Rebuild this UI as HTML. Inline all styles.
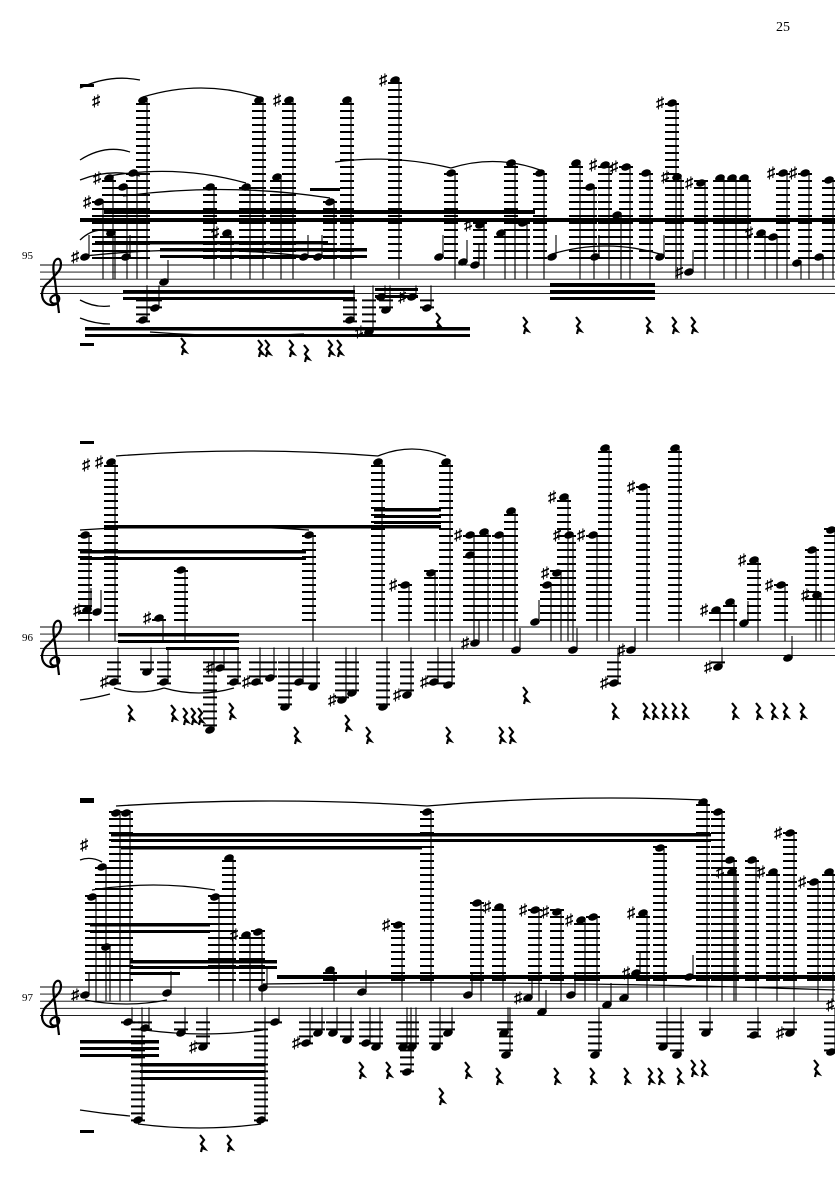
<!DOCTYPE html>
<html><head><meta charset="utf-8"><style>
html,body{margin:0;padding:0;background:#fff;}
svg{display:block;}
text{font-family:"Liberation Serif","DejaVu Serif",serif;}
</style></head><body>
<svg id="s" width="835" height="1181" viewBox="0 0 835 1181" xmlns="http://www.w3.org/2000/svg">
<rect width="835" height="1181" fill="#fff"/>
<text x="776" y="31" font-size="14">25</text>
<text x="22" y="259" font-size="11">95</text>
<text x="22" y="641" font-size="11">96</text>
<text x="22" y="1001" font-size="11">97</text>
<g id="g"></g>
</svg>
<script>
var o='';
function L(a,b,c,d,w){o+='<line x1="'+a+'" y1="'+b+'" x2="'+c+'" y2="'+d+'" stroke="#000" stroke-width="'+(w||1)+'"/>';}
function R(x,y,w,h){o+='<rect x="'+x+'" y="'+y+'" width="'+w+'" height="'+h+'" fill="#000"/>';}
function H(x,y){o+='<ellipse cx="'+x+'" cy="'+y+'" rx="5" ry="3.5" transform="rotate(-20 '+x+' '+y+')" fill="#000"/>';}
function S(x,y){o+='<text x="'+x+'" y="'+y+'" font-size="16" font-weight="bold" font-family="DejaVu Sans,sans-serif">♯</text>';}
function rest(x,y){o+='<path d="M'+x+' '+y+' l4 5 -3 4 4 5 -3 -1 -1 4" fill="none" stroke="#000" stroke-width="2.2"/>';}
function slur(x1,y1,x2,y2,h){o+='<path d="M'+x1+' '+y1+' Q'+((x1+x2)/2)+' '+(Math.min(y1,y2)-h)+' '+x2+' '+y2+'" fill="none" stroke="#000" stroke-width="1.3"/>';}
function staff(t){for(var i=0;i<5;i++)L(40,t+i*7.1,835,t+i*7.1,0.9);
 o+='<path d="M58 '+(t+38)+' c-9 3 -10 -6 -3 -8 c6 -1 6 9 -2 10 c-11 1 -16 -14 -4 -23 l9 -10 c5 -6 3 -15 -1 -13 c-5 2 -4 12 -2 22 l4 32" fill="none" stroke="#000" stroke-width="2.2"/>';}
function ladUp(x,hy,st){for(var y=st-7;y>=hy-2;y-=7)L(x-7,y,x+7,y,2);H(x,hy);L(x+4,hy,x+4,st+14,1.1);}
function ladDn(x,hy,sb){for(var y=sb+7;y<=hy+2;y+=7)L(x-7,y,x+7,y,2);H(x,hy);L(x+4,hy,x+4,sb-8,1.1);}
function near(x,hy){H(x,hy);L(x+4,hy,x+4,hy-22,1.1);}
function sys(st,up,nr,dn,beams,rests){staff(st);var sb=st+28.4;
 up.forEach(function(p){ladUp(p[0],p[1],st);if(p[2])S(p[0]-16,p[1]+5);});
 nr.forEach(function(p){near(p[0],p[1]);if(p[2])S(p[0]-14,p[1]+5);});
 dn.forEach(function(p){ladDn(p[0],p[1],sb);if(p[2])S(p[0]-14,p[1]+5);});
 beams.forEach(function(b){R(b[0],b[1],b[2]-b[0],b[3]);});
 rests.forEach(function(r){rest(r[0],r[1]);});}
sys(265,
[[143,100],[259,100],[289,100,1],[347,100],[395,80,1],[451,173],[511,163],[540,173],[576,163],[605,165,1],[626,167,1],[646,173],[672,103,1],[677,177,1],[701,183,1],[720,178],[732,178],[744,178],[783,173,1],[805,173,1],[829,180],[109,178,1],[133,173],[123,187],[99,202,1],[210,187],[246,187],[277,177],[330,202],[227,233,1],[111,233],[480,225,1],[501,233],[523,223],[590,187],[617,215],[761,233,1],[773,237],[797,263],[819,257]],
[[85,257,1],[126,257],[164,282],[304,257],[318,257],[439,257],[463,262],[475,265],[552,257],[595,257],[660,257],[689,272,1]],
[[381,297],[412,297,1],[427,308],[386,310],[155,308],[143,320],[350,320],[369,332,1]],
[[104,210,535,4],[80,218,835,4],[95,241,328,3.5],[160,248,367,3.5],[160,255,367,3],[123,290,355,3.5],[123,297,355,3],[85,327,470,3.5],[85,334,470,3],[550,283,655,4],[550,290,655,4],[550,297,655,3],[310,188,340,3],[375,288,418,3],[375,295,418,3]],
[[436,313],[523,317],[576,317],[646,317],[672,317],[691,317],[181,338],[258,340],[265,340],[289,340],[304,345],[328,340],[337,340]]);
R(80,84,14,3);S(92,106);R(80,343,14,3);
slur(80,88,140,80,6);slur(80,160,130,152,8);slur(80,180,140,176,8);slur(80,240,110,232,6);slur(80,300,110,306,-8);slur(80,318,110,324,-6);
slur(143,97,259,97,18);slur(335,162,451,168,8);slur(451,168,540,170,14);slur(552,254,660,254,16);slur(109,176,246,183,12);slur(123,196,330,198,14);slur(85,256,304,256,12);
slur(150,332,304,334,-6);
sys(627,
[[111,462,1],[378,462],[446,462],[605,448],[675,448],[564,497,1],[643,487,1],[511,511],[470,535,1],[484,532],[499,535],[309,535],[85,535],[181,570],[405,585,1],[431,573],[569,535,1],[593,535,1],[557,573,1],[547,585],[754,560,1],[781,585,1],[812,550],[817,595,1],[831,530],[716,610,1],[730,602],[159,618,1],[470,555]],
[[475,643,1],[516,650],[535,622],[573,650],[631,650,1],[744,623],[788,658],[97,612],[87,610,1]],
[[114,682,1],[147,672],[164,682],[220,668,1],[234,682],[210,730],[256,682,1],[270,678],[285,707],[299,682],[313,687],[342,700,1],[352,693],[383,707],[407,695,1],[434,682,1],[448,685],[614,683,1],[718,667,1]],
[[118,633,239,3.5],[118,640,239,3],[166,647,239,3],[374,508,441,3.5],[374,515,441,3],[374,521,441,3],[104,525,441,3.5],[80,550,306,3.5],[80,557,306,3]],
[[128,705],[171,705],[183,708],[191,708],[198,708],[229,703],[294,727],[345,715],[366,727],[446,727],[499,727],[509,727],[523,687],[612,703],[643,703],[652,703],[662,703],[672,703],[682,703],[732,703],[756,703],[771,703],[783,703],[800,703]]);
R(80,441,14,3);R(80,798,14,3);S(82,470);
slur(116,456,378,456,10);slur(378,456,446,456,14);slur(80,530,309,530,8);slur(114,688,164,688,-8);slur(164,688,234,688,-10);slur(80,700,110,694,-4);
sys(987,
[[116,813],[126,813],[427,812],[703,802],[718,812],[102,867],[92,897],[215,897],[229,858],[246,935,1],[258,932],[330,970],[398,925,1],[477,903],[499,907,1],[535,910,1],[557,912,1],[581,920,1],[593,917],[643,913,1],[660,848],[730,860],[732,872,1],[752,860],[773,872,1],[790,833,1],[814,882,1],[829,872],[106,947]],
[[468,995],[528,998,1],[542,1012],[571,995],[607,1005],[624,998],[636,973,1],[689,977],[362,992],[167,993],[263,988],[85,995,1]],
[[128,1022],[145,1028],[181,1033],[203,1047,1],[275,1022],[306,1043,1],[318,1033],[333,1033],[347,1040],[366,1043],[376,1047],[403,1047],[412,1047],[407,1072],[436,1047],[448,1033],[504,1033],[506,1055],[595,1055],[663,1047],[677,1055],[706,1033],[754,1035],[790,1033,1],[831,1052],[138,1120],[261,1120]],
[[111,833,711,3.5],[111,839,711,3],[121,846,422,3.5],[90,923,210,3.5],[90,930,210,3],[130,960,277,3.5],[130,966,277,3],[130,972,180,3],[277,975,835,4],[80,1040,159,3.5],[80,1047,159,3],[80,1054,159,3],[140,1063,265,3.5],[140,1070,265,3],[140,1077,265,3]],
[[359,1062],[386,1062],[439,1088],[465,1062],[496,1068],[554,1068],[590,1068],[624,1068],[648,1068],[658,1068],[677,1068],[691,1060],[701,1060],[814,1060],[200,1135],[227,1135]]);
R(80,800,14,3);R(80,1130,14,3);S(80,850);S(826,1010);
slur(116,806,427,806,10);slur(427,806,703,800,6);slur(92,890,215,890,10);slur(102,862,80,860,4);slur(263,984,835,990,4);slur(85,1000,167,1000,-8);slur(145,1030,263,1030,-8);slur(138,1124,261,1124,-8);slur(80,1110,130,1116,-4);
document.getElementById('g').innerHTML=o;
</script>
</body></html>
